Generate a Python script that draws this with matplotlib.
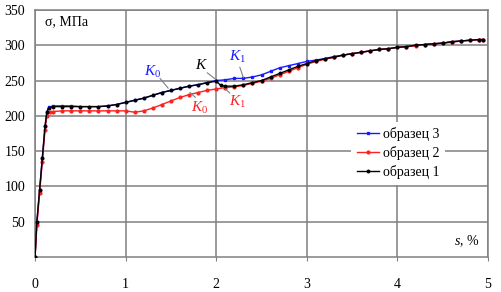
import matplotlib
matplotlib.use("Agg")
import matplotlib.pyplot as plt

plt.rcParams['font.family'] = ['Liberation Serif', 'DejaVu Serif']
plt.rcParams['mathtext.fontset'] = 'custom'
plt.rcParams['mathtext.rm'] = 'Liberation Serif'
plt.rcParams['mathtext.it'] = 'Liberation Serif:italic'

# образец 3 (blue)
s3 = [0, 0.02, 0.05, 0.08, 0.11, 0.13, 0.15, 0.2, 0.3, 0.4, 0.5, 0.6, 0.7, 0.8, 0.9,
      1.0, 1.1, 1.2, 1.3, 1.4, 1.5, 1.6, 1.7, 1.8, 1.9, 2.0, 2.1, 2.2, 2.3, 2.4,
      2.5, 2.6, 2.7, 2.8, 2.9, 3.0, 3.1, 3.2, 3.3, 3.4, 3.5, 3.6, 3.7, 3.8, 3.9,
      4.0, 4.1, 4.2, 4.3, 4.4, 4.5, 4.6, 4.7, 4.8, 4.9, 4.95]
sig3 = [0, 50, 95, 140, 185, 205, 212, 214, 214, 214, 213, 213, 213, 214, 216,
        219, 222, 225, 229, 233, 236, 239, 242, 244, 247, 250, 251, 253, 253, 255,
        258, 263, 268, 271, 274, 277, 279, 281, 284, 286, 288, 290, 292, 294, 295,
        297, 298, 300, 301, 302, 303, 305, 306, 307, 308, 308]

# образец 2 (red)
s2 = [0, 0.02, 0.05, 0.08, 0.11, 0.13, 0.16, 0.2, 0.3, 0.4, 0.5, 0.6, 0.7, 0.8, 0.9,
      1.0, 1.1, 1.2, 1.3, 1.4, 1.5, 1.6, 1.7, 1.8, 1.9, 2.0, 2.1, 2.2, 2.3, 2.4,
      2.5, 2.6, 2.7, 2.8, 2.9, 3.0, 3.1, 3.2, 3.3, 3.4, 3.5, 3.6, 3.7, 3.8, 3.9,
      4.0, 4.1, 4.2, 4.3, 4.4, 4.5, 4.6, 4.7, 4.8, 4.9, 4.95]
sig2 = [0, 45, 90, 135, 180, 200, 205, 206, 207, 207, 207, 207, 207, 207, 207,
        207, 205, 207, 211, 216, 221, 226, 230, 233, 236, 238, 240, 241, 243, 246,
        249, 253, 258, 263, 268, 273, 277, 280, 283, 286, 288, 290, 292, 294, 295,
        297, 298, 299, 301, 302, 303, 304, 306, 307, 308, 308]

# образец 1 (black)
s1 = [0, 0.02, 0.05, 0.08, 0.11, 0.13, 0.15, 0.2, 0.3, 0.4, 0.5, 0.6, 0.7, 0.8, 0.9,
      1.0, 1.1, 1.2, 1.3, 1.4, 1.5, 1.6, 1.7, 1.8, 1.9, 2.0, 2.05, 2.1, 2.2, 2.3, 2.4,
      2.5, 2.6, 2.7, 2.8, 2.9, 3.0, 3.1, 3.2, 3.3, 3.4, 3.5, 3.6, 3.7, 3.8, 3.9,
      4.0, 4.1, 4.2, 4.3, 4.4, 4.5, 4.6, 4.7, 4.8, 4.9, 4.95]
sig1 = [0, 50, 95, 140, 185, 205, 211, 213, 213, 213, 213, 213, 213, 214, 216,
        219, 222, 225, 229, 233, 236, 239, 242, 244, 247, 249, 243, 242, 242, 244, 247,
        250, 255, 260, 265, 270, 274, 278, 281, 283, 286, 288, 290, 292, 294, 295,
        297, 298, 300, 301, 302, 303, 305, 306, 307, 308, 308]

xticks = [0, 1, 2, 3, 4, 5]
yticks = [50, 100, 150, 200, 250, 300, 350]

# point labels: text, text position, leader start, leader end, colour
labels = [
    ('$K_{\\mathrm{0}}$', (1.30, 262), (1.38, 253), (1.47, 239), '#1a1aff'),
    ('$K$', (1.84, 272), (1.90, 261), (1.99, 252), 'black'),
    ('$K_{\\mathrm{1}}$', (2.23, 283), (2.26, 269), (2.30, 254), '#1a1aff'),
    ('$K_{\\mathrm{0}}$', (1.82, 211), (1.77, 226), (1.71, 233), '#ff2020'),
    ('$K_{\\mathrm{1}}$', (2.24, 219), (2.15, 232), (2.08, 241), '#ff2020'),
]

fig = plt.figure(figsize=(5.01, 2.92), dpi=100)
ax = fig.add_axes([0.07, 0.12, 0.904, 0.846])

l3, = ax.plot(s3, sig3, color='#1a1aff', lw=1.0, marker='s', ms=2, zorder=3)
l2, = ax.plot(s2, sig2, color='#ff2020', lw=1.0, marker='o', ms=2, zorder=3)
l1, = ax.plot(s1, sig1, color='black', lw=1.0, marker='o', ms=1.8, zorder=4)

ax.set_xlim(0, 5)
ax.set_ylim(0, 350)
ax.set_xticks(xticks)
ax.set_yticks(yticks)
ax.grid(True, color='#808080', lw=1.1)
for sp in ax.spines.values():
    sp.set_color('#808080')
    sp.set_linewidth(1.1)
ax.tick_params(axis='x', length=3, color='#808080', pad=12, labelsize=10)
ax.tick_params(axis='y', length=0, pad=7, labelsize=10)

ax.text(0.11, 333, 'σ, МПа', fontsize=10, va='center', ha='left')
ax.text(4.91, 23, '$s$, %', fontsize=10, va='center', ha='right')

for txt, pos, start, end, col in labels:
    ax.text(pos[0], pos[1], txt, color=col, fontsize=11, ha='center', va='center')
    ax.annotate('', xy=end, xytext=start,
                arrowprops=dict(arrowstyle='-', color='#808080', lw=0.8,
                                shrinkA=0, shrinkB=0))

leg = ax.legend([l3, l2, l1], ['образец 3', 'образец 2', 'образец 1'],
                loc='center left', bbox_to_anchor=(0.683, 0.42), frameon=True,
                fontsize=10, handlelength=1.6, handletextpad=0.3,
                labelspacing=0.35, borderpad=0.4)
leg.get_frame().set_edgecolor('none')
leg.get_frame().set_facecolor('white')
leg.get_frame().set_alpha(1)

fig.savefig('out.png', dpi=100)
